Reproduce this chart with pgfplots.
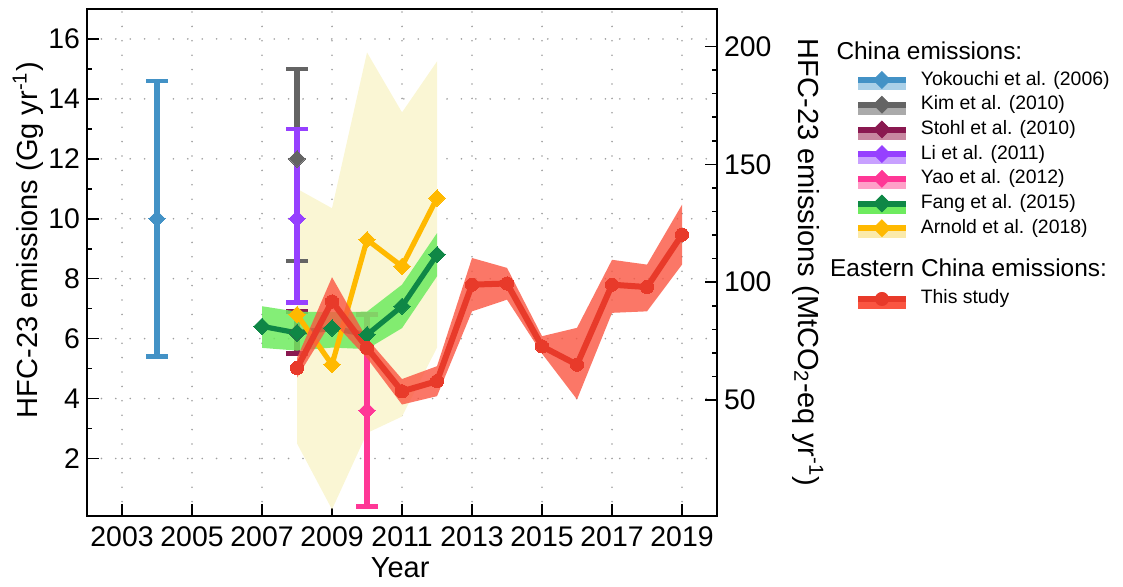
\documentclass[border=0pt]{standalone}
\usepackage{fontspec}
\setmainfont{Liberation Sans}
\usepackage{pgfplots}
\pgfplotsset{compat=1.18}

\definecolor{cYok}{RGB}{67,146,198}
\definecolor{cYokB}{RGB}{170,208,232}
\definecolor{cKim}{RGB}{100,100,100}
\definecolor{cKimB}{RGB}{170,170,170}
\definecolor{cSto}{RGB}{138,24,80}
\definecolor{cStoB}{RGB}{200,135,160}
\definecolor{cLi}{RGB}{150,64,255}
\definecolor{cLiB}{RGB}{200,160,255}
\definecolor{cYao}{RGB}{255,55,150}
\definecolor{cYaoB}{RGB}{255,160,200}
\definecolor{cFang}{RGB}{15,135,70}
\definecolor{cFangB}{RGB}{110,235,95}
\definecolor{cArn}{RGB}{255,185,0}
\definecolor{cArnB}{RGB}{250,246,212}
\definecolor{cRed}{RGB}{232,58,42}
\definecolor{cRedB}{RGB}{250,85,65}

\newcommand{\tickfont}{\fontsize{14.2}{17}\selectfont}
\newcommand{\lblfont}{\fontsize{14.5}{17}\selectfont}

% legend sample: dark line over a lighter band, with a diamond / circle
\newcommand{\legimg}[2]{\addlegendimage{legend image code/.code={%
  \fill[#2] (0pt,-4.75pt) rectangle (23.5pt,-1.25pt);
  \fill[#1] (0pt,-1.25pt) rectangle (23.5pt,1.25pt);
  \fill[#1] (11.75pt,-4.2pt) -- (15.95pt,0pt) -- (11.75pt,4.2pt) -- (7.55pt,0pt) -- cycle;}}}
\newcommand{\legimgc}[2]{\addlegendimage{legend image code/.code={%
  \fill[#2] (0pt,-4.75pt) rectangle (23.5pt,-1.25pt);
  \fill[#1] (0pt,-1.25pt) rectangle (23.5pt,1.25pt);
  \fill[#1] (11.75pt,0pt) circle[radius=3.3pt];}}}

\pgfplotsset{
  hfcbase/.style={scale only axis, width=315pt, height=253.5pt,
    xmin=2002, xmax=2020,
    tick align=inside, major tick length=6pt, minor tick length=2.7pt,
    axis line style={line width=0.8pt}, tick style={black, line width=0.8pt},
    ticklabel style={font=\tickfont}, label style={font=\lblfont},
    /pgf/number format/assume math mode=true,
    /pgf/number format/1000 sep={},
    legend cell align=left,
    legend style={draw=none, fill=none, inner sep=0pt, outer sep=0pt,
      font=\fontsize{9.7}{11}\selectfont, row sep=2.9pt, /tikz/column sep=7.5pt,
      nodes={inner sep=0pt, text height=7pt, text depth=2pt}}},
  errplot/.style={#1, forget plot, line width=2.8pt, mark=square*, mark size=2.9pt,
    mark options={rotate=45, solid, line width=0pt, fill=#1},
    error bars/.cd, y dir=both, y explicit, error mark=|,
    error bar style={line width=2.8pt, #1},
    error mark options={line width=2.2pt, mark size=5.4pt, #1}},
  emline/.style={#1, forget plot, line width=2.6pt, line join=round,
    mark=square*, mark size=2.9pt, mark options={rotate=45, line width=0pt, fill=#1}},
}

\begin{document}
\begin{tikzpicture}
\begin{axis}[hfcbase,
  ymin=0.08, ymax=17,
  xtick={2003,2005,...,2019}, xtick pos=left,
  ytick={2,4,...,16}, ytick pos=left, minor y tick num=1,
  xticklabel style={yshift=-2pt},
  xmajorgrids, ymajorgrids,
  major grid style={gray!75, line width=0.9pt, line cap=round, dash pattern=on 0pt off 7.2pt},
  xlabel={Year},
  ylabel={HFC-23 emissions (Gg yr\textsuperscript{-1})},
  xlabel style={at={(axis description cs:0.497,-0.1026)}, anchor=center},
  ylabel style={at={(axis description cs:-0.0937,0.544)}, anchor=center},
  legend style={at={(axis description cs:1.2238,0.8777)}, anchor=north west},
]
% Arnold et al. (2018) uncertainty range
\addplot[draw=none, fill=cArnB, forget plot] coordinates {
  (2008,11.0) (2009,10.35) (2010,15.55) (2011,13.55) (2012,15.25)
  (2012,5.7) (2011,3.4) (2010,2.85) (2009,0.3) (2008,2.5)} -- cycle;

% single-year estimates with error bars
\addplot[errplot=cYok] coordinates {(2004,10) += (0,4.6) -= (0,4.6)};
\addplot[errplot=cKim] coordinates {(2008,12) += (0,3.0) -= (0,3.4)};
\addplot[errplot=cLi]  coordinates {(2008,10) += (0,3.0) -= (0,2.8)};
\addplot[errplot=cSto] coordinates {(2008,6.2) += (0,0.7) -= (0,0.7)};
\addplot[errplot=cYao] coordinates {(2010,3.6) += (0,3.2) -= (0,3.2)};

% Fang et al. (2015)
\addplot[draw=none, fill=cFangB, fill opacity=0.85, forget plot] coordinates {
  (2007,7.08) (2008,6.9) (2009,6.88) (2010,6.9) (2011,7.8) (2012,9.52)
  (2012,8.08) (2011,6.35) (2010,5.65) (2009,5.7) (2008,5.6) (2007,5.69)} -- cycle;
\addplot[emline=cFang] coordinates {
  (2007,6.41) (2008,6.19) (2009,6.35) (2010,6.13) (2011,7.08) (2012,8.8)};

% Arnold et al. (2018)
\addplot[emline=cArn] coordinates {
  (2008,6.8) (2009,5.13) (2010,9.3) (2011,8.41) (2012,10.69)};

% This study
\addplot[draw=none, fill=cRedB, fill opacity=0.8, forget plot] coordinates {
  (2008,5.35) (2009,8.05) (2010,6.0) (2011,4.65) (2012,5.08) (2013,8.69)
  (2014,8.36) (2015,6.08) (2016,6.36) (2017,8.63) (2018,8.47) (2019,10.47)
  (2019,8.47) (2018,6.91) (2017,6.86) (2016,3.97) (2015,5.5) (2014,7.3)
  (2013,6.91) (2012,4.08) (2011,3.8) (2010,5.35) (2009,6.6) (2008,4.7)} -- cycle;
\addplot[cRed, forget plot, line width=3pt, line join=round, mark=*, mark size=3.3pt,
  mark options={line width=0pt, fill=cRed}] coordinates {
  (2008,5.02) (2009,7.24) (2010,5.69) (2011,4.24) (2012,4.58) (2013,7.8)
  (2014,7.84) (2015,5.74) (2016,5.13) (2017,7.8) (2018,7.72) (2019,9.47)};

\legimg{cYok}{cYokB}\addlegendentry{Yokouchi et al. (2006)}
\legimg{cKim}{cKimB}\addlegendentry{Kim et al. (2010)}
\legimg{cSto}{cStoB}\addlegendentry{Stohl et al. (2010)}
\legimg{cLi}{cLiB}\addlegendentry{Li et al. (2011)}
\legimg{cYao}{cYaoB}\addlegendentry{Yao et al. (2012)}
\legimg{cFang}{cFangB}\addlegendentry{Fang et al. (2015)}
\legimg{cArn}{cArnB!80!cArn}\addlegendentry{Arnold et al. (2018)}

\coordinate (bbsw) at (axis description cs:-0.1381,-0.14);
\coordinate (bbne) at (axis description cs:1.6444,1.01775);
\coordinate (h1) at (axis description cs:1.189,0.917);
\coordinate (h2) at (axis description cs:1.179,0.489);
\end{axis}

\begin{axis}[hfcbase,
  ymin=0.8, ymax=215.9,
  axis x line=none, axis y line*=right,
  ytick={50,100,150,200}, minor y tick num=4,
  ylabel={HFC-23 emissions (MtCO\textsubscript{2}-eq yr\textsuperscript{-1})},
  ylabel style={at={(axis description cs:1.1444,0.5)}, anchor=center, rotate=180},
  legend style={at={(axis description cs:1.2238,0.4458)}, anchor=north west},
]
\legimgc{cRed}{cRedB}\addlegendentry{This study}
\end{axis}

\path (bbsw) rectangle (bbne);
\node[anchor=west, inner sep=0pt, font=\fontsize{12.2}{14}\selectfont] at (h1) {China emissions:};
\node[anchor=west, inner sep=0pt, font=\fontsize{12.2}{14}\selectfont] at (h2) {Eastern China emissions:};
\end{tikzpicture}
\end{document}
